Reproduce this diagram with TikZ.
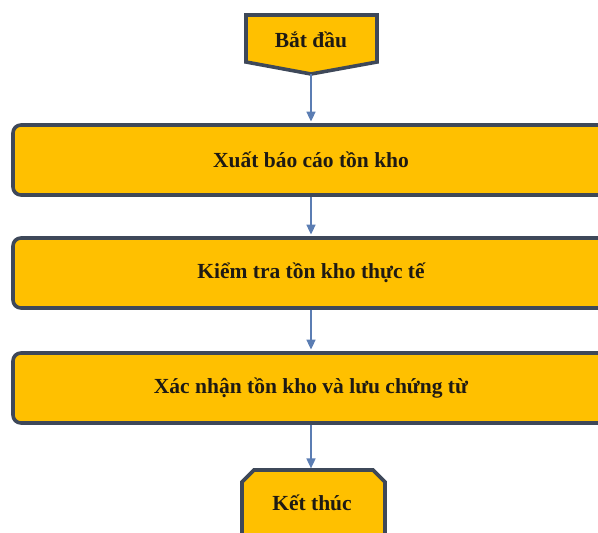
\documentclass[tikz,border=0pt]{standalone}
\usepackage{fontspec}
\setmainfont{Liberation Serif}
\usetikzlibrary{arrows.meta}
\definecolor{boxfill}{HTML}{FFC000}
\definecolor{boxline}{HTML}{3E4859}
\definecolor{flowline}{HTML}{5B7DB3}
\definecolor{labeltext}{HTML}{1E1A14}
\tikzset{
  shapeline/.style={draw=boxline, fill=boxfill, line width=3.6pt, line join=miter},
  stepbox/.style={shapeline, rounded corners=8pt, minimum width=596pt,
    minimum height=70pt, inner sep=0pt},
  steptext/.style={text=labeltext, font=\fontsize{21.5}{24}\selectfont\bfseries},
  flow/.style={draw=flowline, line width=1.7pt,
    -{Triangle[width=9pt,length=10pt]}, shorten >=1.6pt}
}
\begin{document}
\begin{tikzpicture}[x=1pt,y=-1pt]
\useasboundingbox (0,0) rectangle (598,533);
\clip (0,0) rectangle (598,533);

% start terminal: box with a pointed bottom
\draw[shapeline] (246,15) -- (377,15) -- (377,62) -- (311,74) -- (246,62) -- cycle;
\node[steptext] (start) at (311,40) {Bắt đầu};
\coordinate (starttip) at (311,74);

% process steps
\node[stepbox, steptext] (b1) at (311,160) {Xuất báo cáo tồn kho};
\node[stepbox, steptext] (b2) at (311,273) {Kiểm tra tồn kho thực tế};
\node[stepbox, steptext] (b3) at (311,388) {Xác nhận tồn kho và lưu chứng từ};

% end terminal: snipped top corners
\draw[shapeline] (242,550) -- (242,482) -- (254,470) -- (373,470) -- (385,482) -- (385,550) -- cycle;
\coordinate (endtop) at (311,470);
\node[steptext] (end) at (312,503) {Kết thúc};

% connectors
\draw[flow] (starttip) -- (b1.north);
\draw[flow] (b1.south) -- (b2.north);
\draw[flow] (b2.south) -- (b3.north);
\draw[flow] (b3.south) -- (endtop);
\end{tikzpicture}
\end{document}
